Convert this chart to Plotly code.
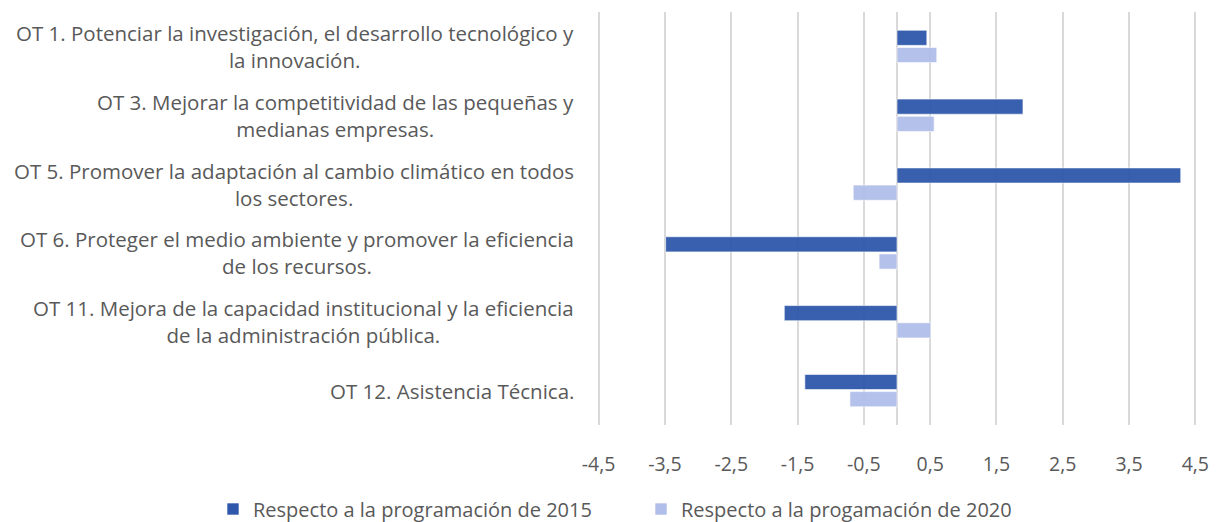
import plotly.graph_objects as go

categories = [
    "OT 1. Potenciar la investigación, el desarrollo tecnológico y<br>la innovación.",
    "OT 3. Mejorar la competitividad de las pequeñas y<br>medianas empresas.",
    "OT 5. Promover la adaptación al cambio climático en todos<br>los sectores.",
    "OT 6. Proteger el medio ambiente y promover la eficiencia<br>de los recursos.",
    "OT 11. Mejora de la capacidad institucional y la eficiencia<br>de la administración pública.",
    "OT 12. Asistencia Técnica.",
]
cat_ids = ["OT1", "OT3", "OT5", "OT6", "OT11", "OT12"]
series_2015 = [0.45, 1.90, 4.28, -3.49, -1.70, -1.39]
series_2020 = [0.60, 0.56, -0.66, -0.27, 0.51, -0.71]
name_2015 = "Respecto a la programación de 2015"
name_2020 = "Respecto a la progamación de 2020"
tick_vals = [-4.5, -3.5, -2.5, -1.5, -0.5, 0.5, 1.5, 2.5, 3.5, 4.5]
tick_text = ["-4,5", "-3,5", "-2,5", "-1,5", "-0,5", "0,5", "1,5", "2,5", "3,5", "4,5"]

FONT = "Open Sans, sans-serif"
GRAY = "#595959"

fig = go.Figure()
fig.add_trace(go.Bar(y=cat_ids, x=series_2015, orientation="h", name=name_2015,
                     legend="legend",
                     marker=dict(color="#2F58AA", opacity=0.95,
                                 line=dict(color="rgba(255,255,255,0.6)", width=1))))
fig.add_trace(go.Bar(y=cat_ids, x=series_2020, orientation="h", name=name_2020,
                     legend="legend2",
                     marker=dict(color="#B0BEE9", opacity=0.95,
                                 line=dict(color="rgba(255,255,255,0.6)", width=1))))

for cid, lab in zip(cat_ids, categories):
    fig.add_annotation(x=0, xref="paper", y=cid, yref="y", text=lab,
                       showarrow=False, xanchor="right", yanchor="middle",
                       align="center", xshift=-20,
                       font=dict(family=FONT, size=20.5, color=GRAY))

leg_common = dict(orientation="h", xref="container", yref="container",
                  xanchor="left", y=13 / 522, yanchor="middle",
                  font=dict(family=FONT, size=20, color=GRAY),
                  itemwidth=30, bgcolor="rgba(0,0,0,0)")

fig.update_layout(
    width=1224, height=522,
    margin=dict(l=596, r=26, t=12, b=97, autoexpand=False),
    paper_bgcolor="white", plot_bgcolor="white",
    barmode="group", bargap=0.5, bargroupgap=0.12,
    font=dict(family=FONT, size=20, color=GRAY),
    xaxis=dict(range=[-4.54, 4.54], tickvals=tick_vals, ticktext=tick_text,
               showgrid=True, gridcolor="#D9D9D9", gridwidth=2,
               zeroline=True, zerolinecolor="#D9D9D9", zerolinewidth=2,
               showline=False, ticks="", ticklabelstandoff=25, automargin=False,
               tickfont=dict(family=FONT, size=19.5, color=GRAY)),
    yaxis=dict(categoryorder="array", categoryarray=cat_ids, autorange="reversed",
               showticklabels=False, showgrid=False, zeroline=False, ticks="",
               automargin=False),
    legend=dict(x=213 / 1224, **leg_common),
    legend2=dict(x=641 / 1224, **leg_common),
    showlegend=True,
)

fig.write_html("out.html", config={"displayModeBar": False},
               post_script="document.body.style.margin='0';document.body.style.overflow='hidden';")
